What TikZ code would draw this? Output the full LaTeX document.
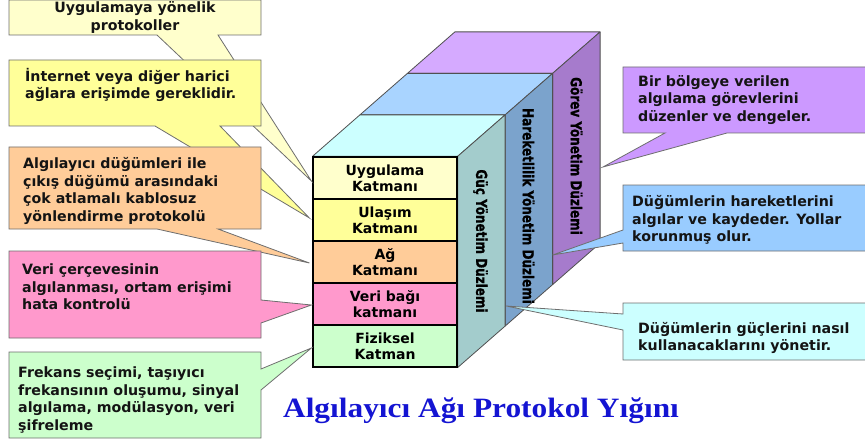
\documentclass[tikz,border=0pt]{standalone}
\usepackage{fontspec}
\usepackage{graphicx}
\setmainfont{DejaVu Sans}
\newfontfamily\planefont{DejaVu Sans}[BoldFeatures={FakeBold=1.2}]
\newfontfamily\titlefont{Liberation Serif}[BoldFont={Liberation Serif Bold}]
\usetikzlibrary{calc}

% layer fills
\definecolor{appY}{HTML}{FFFFCC}
\definecolor{trnY}{HTML}{FFFF99}
\definecolor{netO}{HTML}{FFCC99}
\definecolor{dlP}{HTML}{FF99CC}
\definecolor{phyG}{HTML}{CCFFCC}
% management planes
\definecolor{pwrTop}{HTML}{CCFFFF}
\definecolor{pwrSide}{HTML}{A3CCCC}
\definecolor{mobTop}{HTML}{A9D4FF}
\definecolor{mobSide}{HTML}{7BA3CC}
\definecolor{taskTop}{HTML}{D5AAFF}
\definecolor{taskSide}{HTML}{A67BCC}
% notes
\definecolor{noteP}{HTML}{CC99FF}
\definecolor{noteB}{HTML}{99CCFF}
\definecolor{noteC}{HTML}{CCFFFF}
\definecolor{titleBlue}{HTML}{1414D2}
\definecolor{edgeGray}{HTML}{505050}
\definecolor{noteEdge}{HTML}{6E6E6E}

% condensed heavy label for the plane side faces
\newcommand{\planelabel}[1]{\scalebox{0.8}[1]{#1}}

\begin{document}
\begin{tikzpicture}[x=1pt,y=-1pt,
  layer/.style={draw=black, line width=1.2pt, minimum width=144pt,
    minimum height=42pt, inner sep=0pt, align=center,
    font=\bfseries\fontsize{14}{16}\selectfont},
  face/.style={draw=edgeGray, line width=0.8pt, line join=round},
  planetext/.style={rotate=-90, inner sep=0pt, text=black,
    font=\planefont\bfseries\fontsize{15}{17}\selectfont},
  note/.style={draw=noteEdge, line width=0.8pt, line join=miter},
  notetext/.style={align=left, inner sep=0pt, text=black!92,
    font=\bfseries\fontsize{14.2}{17.5}\selectfont},
]
\path[use as bounding box, clip] (0,0) rectangle (865,441);

% ---------------- protocol layers (front face) ----------------
\node[layer, fill=appY] (uyg)  at (385,178) {Uygulama\\Katmanı};
\node[layer, fill=trnY] (ulas) at (385,220) {Ulaşım\\Katmanı};
\node[layer, fill=netO] (ag)   at (385,262) {Ağ\\Katmanı};
\node[layer, fill=dlP]  (veri) at (385,304) {Veri bağı\\katmanı};
\node[layer, fill=phyG] (fiz)  at (385,346) {Fiziksel\\Katman};

% depth step of one plane
\def\dx{47.5}\def\dy{-41.5}
\coordinate (p0) at (uyg.north west);
\coordinate (q0) at (uyg.north east);
\coordinate (r0) at (fiz.south east);
\coordinate (p1) at ($(p0)+(\dx,\dy)$);
\coordinate (q1) at ($(q0)+(\dx,\dy)$);
\coordinate (r1) at ($(r0)+(\dx,\dy)$);
\coordinate (p2) at ($(p1)+(\dx,\dy)$);
\coordinate (q2) at ($(q1)+(\dx,\dy)$);
\coordinate (r2) at ($(r1)+(\dx,\dy)$);
\coordinate (p3) at ($(p2)+(\dx,\dy)$);
\coordinate (q3) at ($(q2)+(\dx,\dy)$);
\coordinate (r3) at ($(r2)+(\dx,\dy)$);

% ---------------- management planes ----------------
% task plane (back)
\draw[face, fill=taskTop]  (p2) -- (q2) -- (q3) -- (p3) -- cycle;
\draw[face, fill=taskSide] (q2) -- (q3) -- (r3) -- (r2) -- cycle;
% mobility plane (middle)
\draw[face, fill=mobTop]  (p1) -- (q1) -- (q2) -- (p2) -- cycle;
\draw[face, fill=mobSide] (q1) -- (q2) -- (r2) -- (r1) -- cycle;
% power plane (front)
\draw[face, fill=pwrTop]  (p0) -- (q0) -- (q1) -- (p1) -- cycle;
\draw[face, fill=pwrSide] (q0) -- (q1) -- (r1) -- (r0) -- cycle;

% redraw layer frames over the plane edges
\foreach \n in {uyg,ulas,ag,veri,fiz}
  \draw[black, line width=1.2pt] (\n.north west) rectangle (\n.south east);

\node[planetext] (guc)  at (480.5,241) {\planelabel{Güç Yönetim Düzlemi}};
\node[planetext] (hrk)  at (528.5,206) {\planelabel{Hareketlilik Yönetim Düzlemi}};
\node[planetext] (grv)  at (576.5,156) {\planelabel{Görev Yönetim Düzlemi}};

% ---------------- notes on the left ----------------
\coordinate (t1) at ($(uyg.west)+(-1,3)$);
\coordinate (t2) at ($(ulas.west)+(-3,-2)$);
\coordinate (t3) at ($(ag.west)+(-3,1)$);
\coordinate (t4) at ($(veri.west)+(-1,1)$);
\coordinate (t5) at ($(fiz.west)+(-1,2)$);

\draw[note, fill=appY] (9,0) -- (261,0) -- (261,35) -- (218,35) -- (t1)
  -- (157,35) -- (9,35) -- cycle;
\node[notetext, align=center] (n1) at (135,17.5)
  {Uygulamaya yönelik\\protokoller};

\draw[note, fill=trnY] (9,60) -- (261,60) -- (261,126) -- (220,126) -- (t2)
  -- (155,126) -- (9,126) -- cycle;
\node[notetext, anchor=west] (n2) at (25,85)
  {İnternet veya diğer harici\\ağlara erişimde gereklidir.};

\draw[note, fill=netO] (9,147) -- (261,147) -- (261,229) -- (218,229) -- (t3)
  -- (157,229) -- (9,229) -- cycle;
\node[notetext, anchor=west] (n3) at (23,191)
  {Algılayıcı düğümleri ile\\çıkış düğümü arasındaki\\çok atlamalı kablosuz\\yönlendirme protokolü};

\draw[note, fill=dlP] (9,251) -- (261,251) -- (261,300) -- (t4) -- (261,323)
  -- (261,338) -- (9,338) -- cycle;
\node[notetext, anchor=west] (n4) at (22,287)
  {Veri çerçevesinin\\algılanması, ortam erişimi\\hata kontrolü};

\draw[note, fill=phyG] (9,352) -- (261,352) -- (261,369) -- (t5) -- (261,390)
  -- (261,438) -- (9,438) -- cycle;
\node[notetext, anchor=west] (n5) at (18,400)
  {Frekans seçimi, taşıyıcı\\frekansının oluşumu, sinyal\\algılama, modülasyon, veri\\şifreleme};

% ---------------- notes on the right ----------------
\coordinate (t6) at (603,167);
\coordinate (t7) at (r2 |- 0,255);
\coordinate (t8) at ($(r1 |- 0,306)+(1,0)$);

\draw[note, fill=noteP] (623,67) -- (870,67) -- (870,133) -- (727,133) -- (t6)
  -- (665,133) -- (623,133) -- cycle;
\node[notetext, anchor=west] (n6) at (638,100)
  {Bir bölgeye verilen\\algılama görevlerini\\düzenler ve dengeler.};

\draw[note, fill=noteB] (623,185) -- (870,185) -- (870,251) -- (623,251)
  -- (623,243) -- (t7) -- (623,230) -- cycle;
\node[notetext, anchor=west] (n7) at (632,220)
  {Düğümlerin hareketlerini\\algılar ve kaydeder. Yollar\\korunmuş olur.};

\draw[note, fill=noteC] (623,303) -- (870,303) -- (870,360) -- (623,360)
  -- (623,330) -- (t8) -- (623,314) -- cycle;
\node[notetext, anchor=west] (n8) at (638,338)
  {Düğümlerin güçlerini nasıl\\kullanacaklarını yönetir.};

% ---------------- title ----------------
\node[text=titleBlue, font=\titlefont\bfseries\fontsize{28}{32}\selectfont]
  (title) at (481,411) {\scalebox{1.12}[1]{Algılayıcı Ağı Protokol Yığını}};
\end{tikzpicture}
\end{document}
